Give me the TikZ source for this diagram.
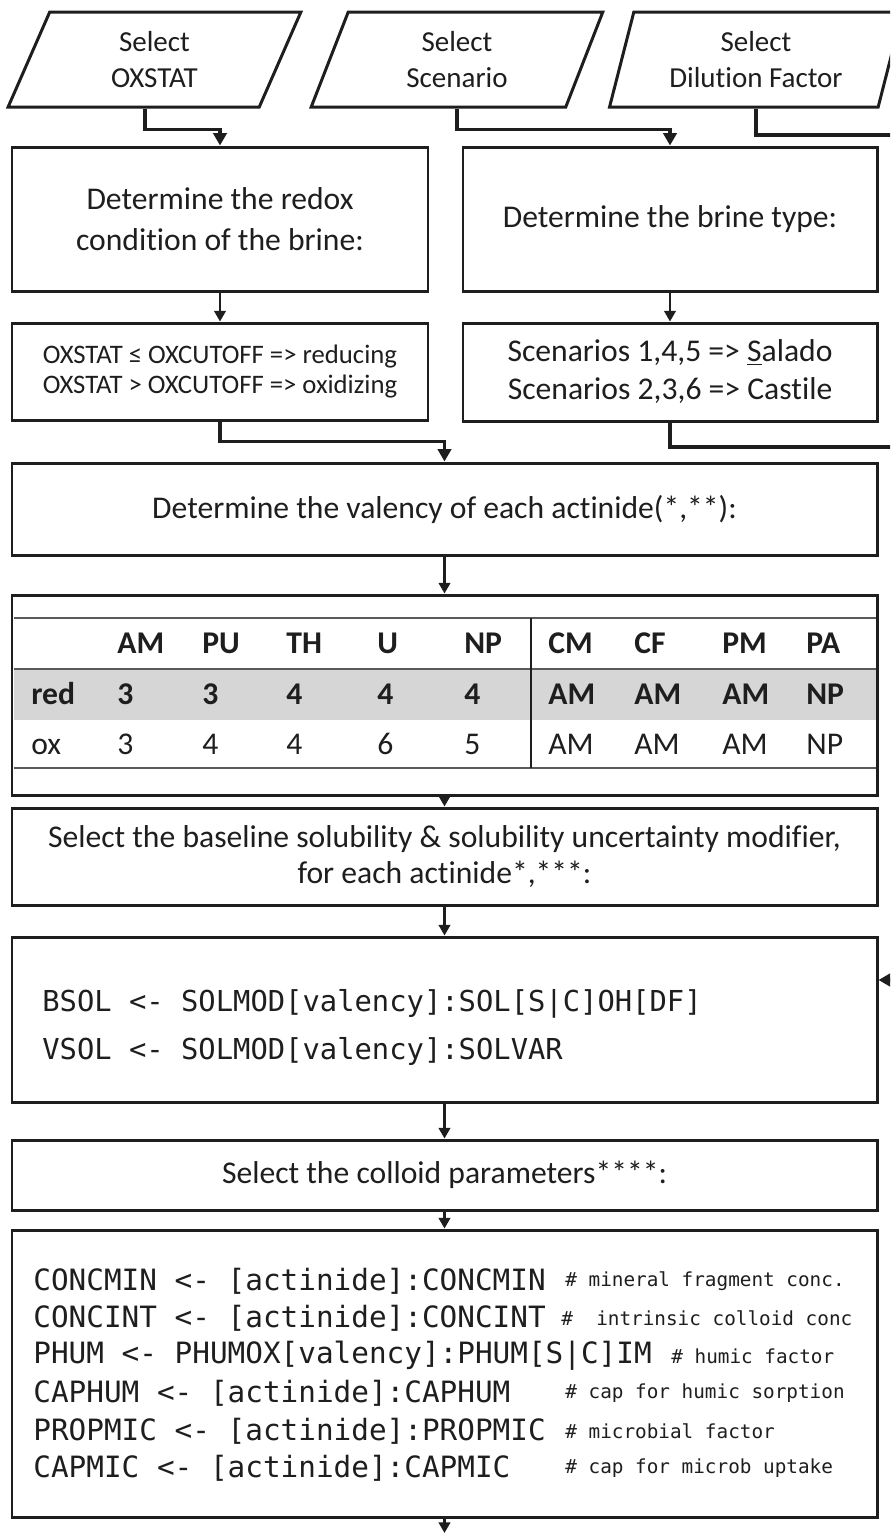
\documentclass[tikz,border=0pt]{standalone}
\usepackage{fontspec}
\setmainfont{Carlito}[Ligatures={TeX,NoCommon}, Contextuals=NoAlternate]
\newfontfamily\codefont{DejaVu Sans Mono}
\usepackage{tikz}
\usetikzlibrary{shapes.geometric, arrows.meta, positioning, calc}
\definecolor{ink}{RGB}{30, 30, 30}
\definecolor{bandgray}{RGB}{214, 214, 214}
\definecolor{rulegray}{RGB}{90, 90, 90}

\begin{document}
\begin{tikzpicture}[
  box/.style={draw=ink, line width=1.7pt, fill=white, text=ink, inner sep=0pt, align=center, font=\fontsize{18}{23}\selectfont},
  io/.style={box, trapezium, trapezium left angle=73, trapezium right angle=107, trapezium stretches=true, minimum width=5.86cm, minimum height=1.9cm, font=\fontsize{16.5}{20.5}\selectfont},
  arr/.style={-{Triangle[length=6pt, width=6.5pt]}, line width=1.3pt, draw=ink},
  wire/.style={line width=2.2pt, draw=ink},
  elb/.style={wire, -{Triangle[length=7pt, width=7.5pt]}},
  cell/.style={anchor=base west, inner sep=0pt, text=ink, font=\fontsize{18}{22}\selectfont},
  code/.style={anchor=west, inner sep=0pt, text=ink, font=\codefont\fontsize{16.7}{20}\selectfont},
  note/.style={anchor=west, inner sep=0pt, text=ink, font=\codefont\fontsize{11}{13}\selectfont},
]
  \useasboundingbox (0,0) rectangle (17.8,-30.7);
  \clip (0,0) rectangle (17.8,-30.7);

  % inputs
  \node[io] (oxsel) at (3.09,-1.19) {Select\\OXSTAT};
  \node[io] (scensel) at (9.14,-1.19) {Select\\Scenario};
  \node[io] (dfsel) at (15.12,-1.19) {Select\\Dilution Factor};

  % brine condition
  \node[box, minimum width=8.32cm, minimum height=2.88cm] (redox) at (4.40,-4.38) {Determine the redox\\condition of the brine:};
  \node[box, minimum width=8.28cm, minimum height=2.88cm] (brine) at (13.40,-4.38) {Determine the brine type:};
  \node[box, minimum width=8.32cm, minimum height=1.94cm, font=\fontsize{15.2}{17.6}\selectfont] (oxcut) at (4.40,-7.43) {OXSTAT ≤ OXCUTOFF => reducing\\OXSTAT > OXCUTOFF => oxidizing};
  \node[box, minimum width=8.28cm, minimum height=1.96cm, font=\fontsize{18}{21.6}\selectfont] (scen) at (13.40,-7.44) {Scenarios 1,4,5 => \underline{S}alado\\Scenarios 2,3,6 => Castile};

  % valency
  \node[box, minimum width=17.3cm, minimum height=1.84cm] (valency) at (8.89,-10.18) {Determine the valency of each actinide(*,**):};
  \node[box, minimum width=17.3cm, minimum height=4.0cm] (table) at (8.89,-13.90) {};
  \fill[bandgray] (0.27,-13.38) rectangle (17.51,-14.40);
  \draw[rulegray, line width=0.8pt] (0.27,-12.36) -- (17.51,-12.36);
  \draw[rulegray, line width=0.8pt] (0.27,-13.38) -- (17.51,-13.38);
  \draw[rulegray, line width=0.8pt] (0.27,-15.36) -- (17.51,-15.36);
  \draw[ink, line width=1pt] (10.62,-12.36) -- (10.62,-15.36);
  \node[cell, font=\fontsize{18}{22}\selectfont\bfseries] (redlab) at (0.62,-14.08) {red};
  \node[cell] (oxlab) at (0.62,-15.08) {ox};
  \foreach \x/\hd/\r/\o [count=\i] in {2.34/AM/3/3, 4.04/PU/3/4, 5.72/TH/4/4, 7.54/U/4/6, 9.28/NP/4/5,
      10.96/CM/AM/AM, 12.68/CF/AM/AM, 14.44/PM/AM/AM, 16.12/PA/NP/NP} {
    \node[cell, font=\fontsize{18}{22}\selectfont\bfseries] (hd\i) at (\x,-13.06) {\hd};
    \node[cell, font=\fontsize{18}{22}\selectfont\bfseries] (rd\i) at (\x,-14.08) {\r};
    \node[cell] (ox\i) at (\x,-15.08) {\o};
  }

  % solubility
  \node[box, minimum width=17.3cm, minimum height=1.94cm, font=\fontsize{18}{21}\selectfont] (baseline) at (8.89,-17.13) {Select the baseline solubility \& solubility uncertainty modifier,\\for each actinide*,***:};
  \node[box, minimum width=17.3cm, minimum height=3.3cm] (bsol) at (8.89,-20.39) {};
  \node[code, align=left, font=\codefont\fontsize{16.4}{27}\selectfont] (bsoltxt) at (0.84,-20.55) {BSOL <- SOLMOD[valency]:SOL[S|C]OH[DF]\\VSOL <- SOLMOD[valency]:SOLVAR};

  % colloids
  \node[box, minimum width=17.3cm, minimum height=1.4cm] (colloid) at (8.89,-23.5) {Select the colloid parameters****:};
  \node[box, minimum width=17.3cm, minimum height=5.74cm] (params) at (8.89,-27.47) {};
  \foreach \cd/\nt/\nx [count=\i from 0] in {
      {CONCMIN <- [actinide]:CONCMIN}/{\# mineral fragment conc.}/11.30,
      {CONCINT <- [actinide]:CONCINT}/{\#\ \ intrinsic colloid conc}/11.22,
      {PHUM <- PHUMOX[valency]:PHUM[S|C]IM}/{\# humic factor}/13.42,
      {CAPHUM <- [actinide]:CAPHUM}/{\# cap for humic sorption}/11.30,
      {PROPMIC <- [actinide]:PROPMIC}/{\# microbial factor}/11.30,
      {CAPMIC <- [actinide]:CAPMIC}/{\# cap for microb uptake}/11.30} {
    \node[code] (cd\i) at (0.66,-25.62-0.75*\i) {\cd};
    \node[note] (nt\i) at (\nx,-25.62-0.75*\i) {\nt};
  }

  % connectors
  \coordinate (dfexit) at (18.3,-2.70);
  \coordinate (scenexit) at (18.3,-8.94);
  \coordinate (dfentry) at (18.3,-19.60);
  \coordinate (outlet) at (8.89,-30.66);
  \draw[elb] ([xshift=-0.19cm]oxsel.south) -- ++(0,-0.42) -| (redox.north);
  \draw[elb] (scensel.south) -- ++(0,-0.42) -| (brine.north);
  \draw[wire] (dfsel.south) |- (dfexit);
  \draw[arr] (redox) -- (oxcut);
  \draw[arr] (brine) -- (scen);
  \draw[elb] (oxcut.south) -- ++(0,-0.4) -| (valency.north);
  \draw[wire] (scen.south) |- (scenexit);
  \draw[arr] (valency) -- (table);
  \draw[arr] (table) -- (baseline);
  \draw[arr] (baseline) -- (bsol);
  \draw[elb] (dfentry) -- (bsol.east |- dfentry);
  \draw[arr] (bsol) -- (colloid);
  \draw[arr] (colloid) -- (params);
  \draw[arr] (params) -- (outlet);
\end{tikzpicture}
\end{document}
